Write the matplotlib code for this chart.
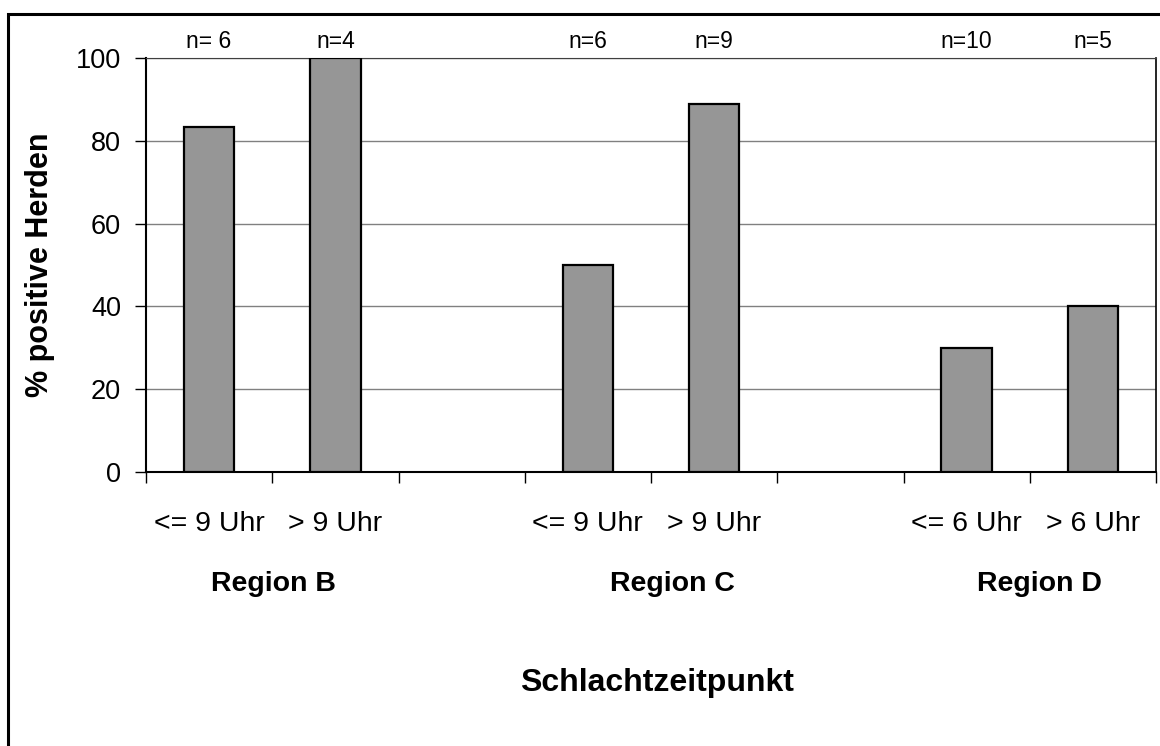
"""Bar chart: share of positive herds by slaughter time, per region."""
import matplotlib
matplotlib.use("Agg")
import matplotlib.pyplot as plt
from matplotlib.patches import Rectangle
import numpy as np

OUTPUT_FILENAME = 'out.png'

# One slot per category; empty strings are spacer slots between regions
CATEGORIES = ['<= 9 Uhr', '> 9 Uhr', '', '<= 9 Uhr', '> 9 Uhr', '', '<= 6 Uhr', '> 6 Uhr']
PERCENT_POSITIVE = [83.3, 100.0, None, 50.0, 88.9, None, 30.0, 40.0]
SAMPLE_LABELS = ['n= 6', 'n=4', '', 'n=6', 'n=9', '', 'n=10', 'n=5']
REGIONS = ['Region B', 'Region C', 'Region D']
REGION_X = [0.51, 3.67, 6.58]
Y_TICKS = [0, 20, 40, 60, 80, 100]

BAR_COLOR = '#969696'
FONT = 'Liberation Sans'


def create_bar_chart() -> None:
    """Draws the bar chart and writes it to a png file."""
    plt.rcParams['font.family'] = [FONT, 'DejaVu Sans']
    fig = plt.figure(figsize=(11.6, 7.46), dpi=100)
    ax = fig.add_axes([146 / 1160, 1 - 472 / 746, 1010 / 1160, 414 / 746])

    # Outer chart frame, cut off at the right and bottom edges
    fig.patches.append(Rectangle((8 / 1160, -0.1), 1.2, 1 - 14 / 746 + 0.1,
                                 transform=fig.transFigure, fill=False,
                                 edgecolor='black', linewidth=2.2))

    x = np.arange(len(CATEGORIES))
    bar_x = [i for i, v in zip(x, PERCENT_POSITIVE) if v is not None]
    bar_h = [v for v in PERCENT_POSITIVE if v is not None]
    ax.bar(bar_x, bar_h, width=0.4, color=BAR_COLOR, edgecolor='black',
           linewidth=1.6, zorder=3)

    ax.set_xlim(-0.5, len(CATEGORIES) - 0.5)
    ax.set_ylim(0, 100)
    ax.set_yticks(Y_TICKS)
    ax.yaxis.grid(True, color='#808080', linewidth=1.0, zorder=0)
    ax.tick_params(axis='y', labelsize=19.5, length=8, width=1.0, pad=10,
                   direction='out')

    # Boundary ticks between slots, labels centred under each bar
    ax.set_xticks(np.arange(len(CATEGORIES) + 1) - 0.5)
    ax.set_xticklabels([])
    ax.tick_params(axis='x', which='major', length=8, width=1.0, direction='out')
    ax.set_xticks(bar_x, minor=True)
    ax.set_xticklabels([c for c in CATEGORIES if c], minor=True)
    ax.tick_params(axis='x', which='minor', length=0, labelsize=20.5, pad=28)

    for side in ['left', 'bottom']:
        ax.spines[side].set_linewidth(1.5)
    ax.spines['top'].set_color('#404040')
    ax.spines['right'].set_linewidth(1.2)

    # Sample sizes above each bar
    for xi, label in zip(x, SAMPLE_LABELS):
        if label:
            ax.text(xi, 1.012, label, transform=ax.get_xaxis_transform(),
                    ha='center', va='bottom', fontsize=16.5)

    for rx, name in zip(REGION_X, REGIONS):
        ax.text(rx, -0.27, name, transform=ax.get_xaxis_transform(),
                ha='center', va='center', fontsize=20.5, fontweight='bold')

    ax.set_ylabel('% positive Herden', fontsize=22, fontweight='bold',
                  labelpad=15)
    fig.text(657 / 1160, 1 - 683 / 746, 'Schlachtzeitpunkt', ha='center',
             va='center', fontsize=23, fontweight='bold')

    fig.savefig(OUTPUT_FILENAME, dpi=100)
    plt.close(fig)


if __name__ == "__main__":
    create_bar_chart()
